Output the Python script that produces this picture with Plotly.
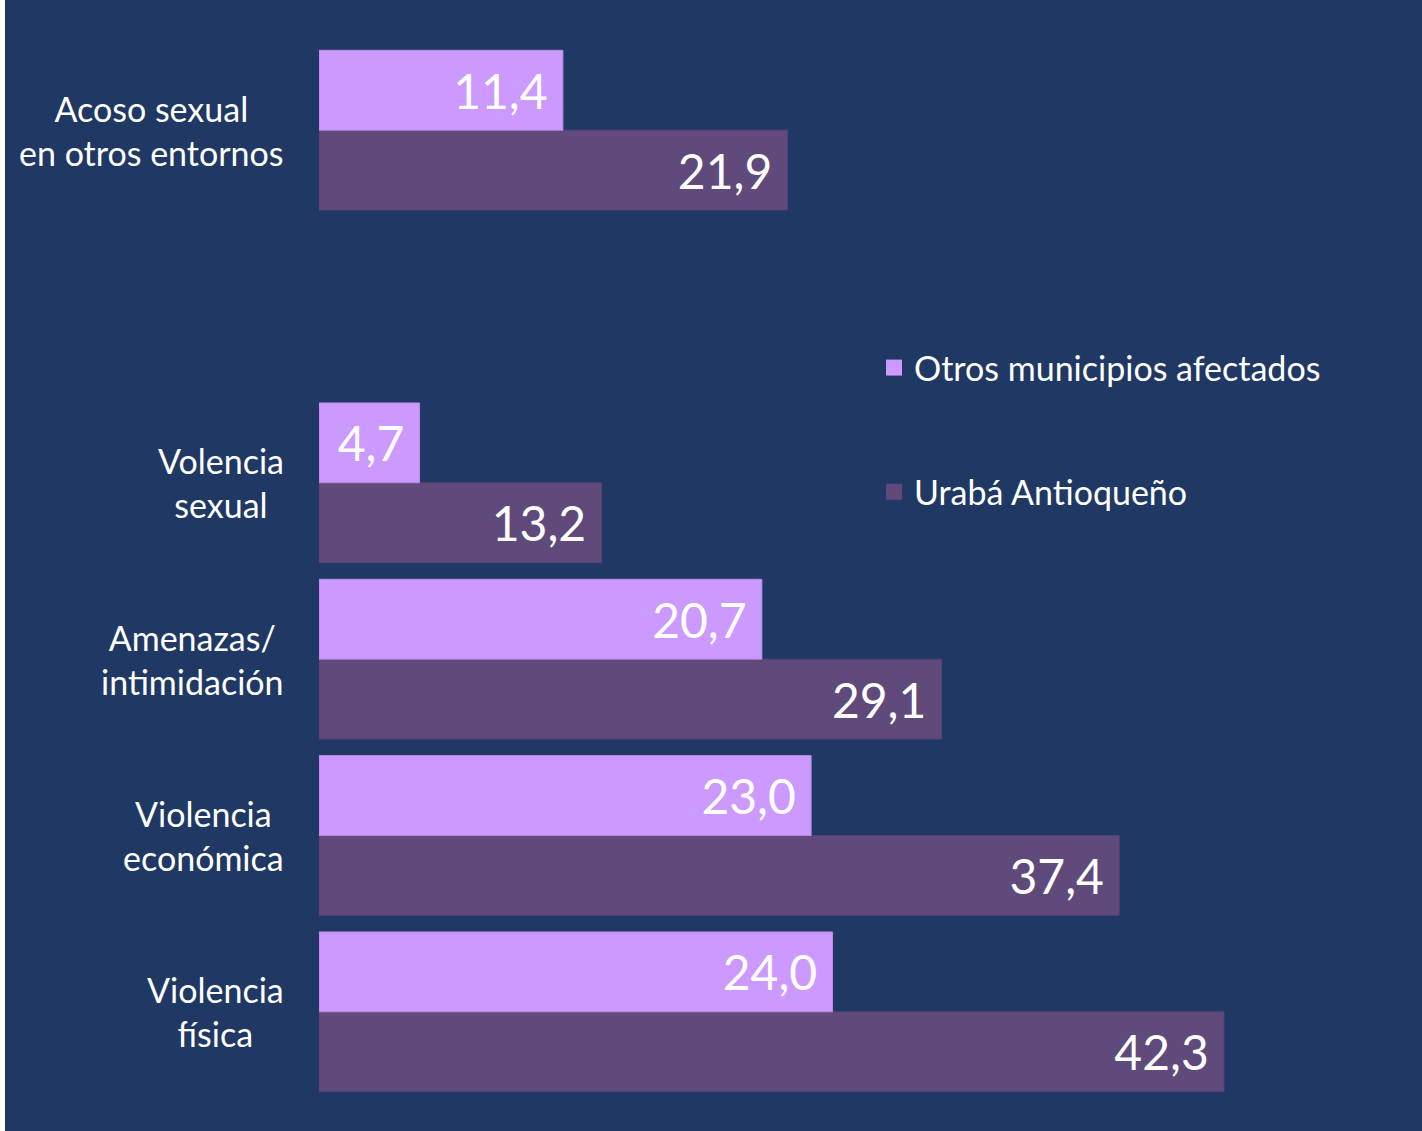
import plotly.graph_objs as go

BG = '#203864'
LIGHT = '#CC99FF'
DARK = '#604A7B'
FONT = 'Lato'

# categories, bottom to top; the blank one is the empty slot under "Acoso sexual"
categories = ['Violencia<br>física', 'Violencia<br>económica',
              'Amenazas/<br>intimidación', 'Volencia<br>sexual',
              ' ', 'Acoso sexual<br>en otros entornos']
data_categories = ['Violencia<br>física', 'Violencia<br>económica',
                   'Amenazas/<br>intimidación', 'Volencia<br>sexual',
                   'Acoso sexual<br>en otros entornos']
uraba = [42.3, 37.4, 29.1, 13.2, 21.9]
otros = [24.0, 23.0, 20.7, 4.7, 11.4]
series_names = ['Urabá Antioqueño', 'Otros municipios afectados']

W, H = 1422, 1131
L, R, T, B = 319, 76, 42, 31
plot_w = W - L - R
plot_h = H - T - B


def bar_trace(name, values, color, line_color, group):
    return go.Bar(
        name=name,
        y=data_categories,
        x=values,
        orientation='h',
        marker=dict(color=color, line=dict(color=line_color, width=1)),
        texttemplate='%{x:.1f}\u00a0',
        textposition='inside',
        insidetextanchor='end',
        constraintext='none',
        textfont=dict(family=FONT, size=48, color='white'),
        legendgroup=group,
        showlegend=False,
        hoverinfo='name+x',
    )


def legend_trace(name, color, group, rank):
    # empty trace, only there to give the legend a bigger square
    return go.Scatter(
        name=name,
        x=[None],
        y=[None],
        mode='markers',
        marker=dict(symbol='square', size=20, color=color),
        legendgroup=group,
        legendrank=rank,
        hoverinfo='skip',
    )


fig = go.Figure(
    data=[
        bar_trace(series_names[0], uraba, DARK, '#56426F', 'a'),
        bar_trace(series_names[1], otros, LIGHT, '#B98AE6', 'b'),
        legend_trace(series_names[1], LIGHT, 'b', 1),
        legend_trace(series_names[0], DARK, 'a', 2),
    ],
    layout=go.Layout(
        width=W,
        height=H,
        paper_bgcolor=BG,
        plot_bgcolor=BG,
        barmode='group',
        bargap=0.094,
        bargroupgap=0,
        separators=', ',
        font=dict(family=FONT, color='white', size=34),
        xaxis=go.layout.XAxis(
            range=[0, 48],
            visible=False,
            fixedrange=True,
        ),
        yaxis=go.layout.YAxis(
            type='category',
            categoryorder='array',
            categoryarray=categories,
            range=[-0.5, len(categories) - 0.5],
            showticklabels=False,
            showgrid=False,
            zeroline=False,
            fixedrange=True,
        ),
        legend=go.layout.Legend(
            traceorder='grouped',
            tracegroupgap=77,
            x=(874 - L) / plot_w,
            xanchor='left',
            y=1 - (339 - T) / plot_h,
            yanchor='top',
            bgcolor='rgba(0,0,0,0)',
            font=dict(family=FONT, size=34, color='white'),
        ),
        margin=go.layout.Margin(l=L, r=R, t=T, b=B, pad=0),
        showlegend=True,
    )
)

# category labels, centered lines, right edge just left of the bars
for cat in data_categories:
    fig.add_annotation(
        x=0, xref='paper', y=cat, yref='y',
        text=cat, showarrow=False,
        xanchor='right', xshift=-33, align='center',
        font=dict(family=FONT, size=34, color='white'),
    )

# thin white border on the left edge of the picture
fig.add_shape(
    type='rect', xref='paper', yref='paper',
    x0=-L / plot_w, x1=(5 - L) / plot_w, y0=-B / plot_h, y1=1 + T / plot_h,
    fillcolor='white', line=dict(width=0), layer='above',
)

fig.write_html("out.html", config={'displayModeBar': False},
               post_script="document.body.style.margin='0';")
